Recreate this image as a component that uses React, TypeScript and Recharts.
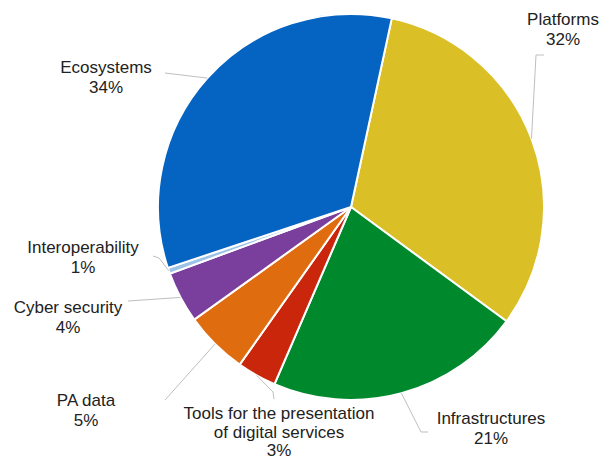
import { Cell, Pie, PieChart } from 'recharts';

const categories = [
  'Platforms',
  'Infrastructures',
  'Tools for the presentation\nof digital services',
  'PA data',
  'Cyber security',
  'Interoperability',
  'Ecosystems',
];
const shares = [31.7, 21.4, 3.3, 5.3, 4.3, 0.5, 33.5];
const colors = ['#DBBF26', '#00882D', '#C9260C', '#E06C10', '#7A3F9D', '#9DC3E6', '#0563C1'];

// label text anchor (centre x, first baseline, line step) and leader elbows
const labelLayout = [
  { x: 563, y: 25, step: 20, path: [[536, 55], [544, 55]] },
  { x: 491, y: 424, step: 20, path: [[421, 432], [428, 432]] },
  { x: 279, y: 419, step: 18.5, path: [[273, 392], [274, 399]] },
  { x: 86, y: 406, step: 20, path: [[165, 400]] },
  { x: 68, y: 313, step: 20, path: [[128, 301]] },
  { x: 83, y: 253, step: 20, path: [[159, 258], [153, 256]] },
  { x: 106, y: 73, step: 20, path: [[165, 73]] },
];

const data = categories.map((name, i) => ({ name, value: shares[i] }));
const RAD = Math.PI / 180;

function renderLabel(props: any) {
  const { cx, cy, midAngle, outerRadius, index } = props;
  const lay = labelLayout[index];
  const sx = cx + outerRadius * Math.cos(-midAngle * RAD);
  const sy = cy + outerRadius * Math.sin(-midAngle * RAD);
  const pts = [[sx, sy], ...lay.path].map((p) => p.join(',')).join(' ');
  const lines = [...categories[index].split('\n'), `${Math.round(shares[index])}%`];
  return (
    <g key={`lbl-${index}`}>
      <polyline points={pts} fill="none" stroke="#BFBFBF" strokeWidth={1} />
      <text
        x={lay.x}
        y={lay.y}
        textAnchor="middle"
        fill="#222"
        fontSize={17}
        fontFamily="'Liberation Sans', Arial, sans-serif"
      >
        {lines.map((l, j) => (
          <tspan key={j} x={lay.x} dy={j === 0 ? 0 : lay.step}>
            {l}
          </tspan>
        ))}
      </text>
    </g>
  );
}

export default function App() {
  return (
    <div style={{ position: 'absolute', left: 0, top: 0, background: '#fff' }}>
      <PieChart width={601} height={461} margin={{ top: 0, right: 0, bottom: 0, left: 0 }}>
        <Pie
          data={data}
          dataKey="value"
          nameKey="name"
          cx={351}
          cy={207}
          outerRadius={193}
          startAngle={77.8}
          endAngle={-282.2}
          stroke="#fff"
          strokeWidth={2}
          label={renderLabel}
          labelLine={false}
          isAnimationActive={false}
        >
          {data.map((d, i) => (
            <Cell key={d.name} fill={colors[i]} />
          ))}
        </Pie>
      </PieChart>
    </div>
  );
}
